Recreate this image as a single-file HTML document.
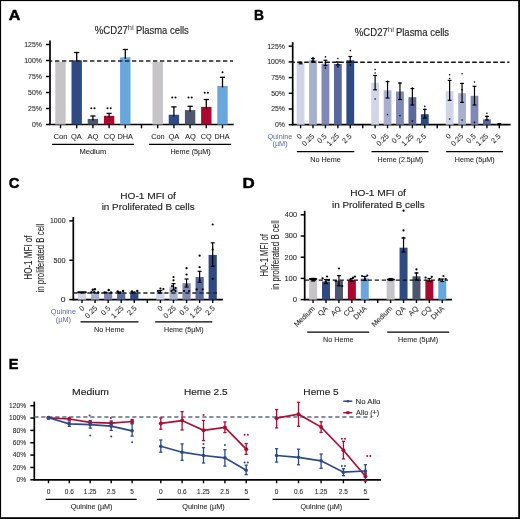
<!DOCTYPE html><html><head><meta charset="utf-8"><style>html,body{margin:0;padding:0;background:#fff;}svg{display:block;will-change:transform;}text{font-family:"Liberation Sans", sans-serif;}</style></head><body>
<svg width="520" height="519" viewBox="0 0 520 519">
<rect x="0" y="0" width="520" height="519" fill="#fff"/>
<text x="8.80" y="19.60" font-size="15.4" fill="#000" stroke="#000" stroke-width="0.5" font-weight="bold" textLength="11.64" lengthAdjust="spacingAndGlyphs" >A</text>
<text x="254.10" y="19.60" font-size="15.4" fill="#000" stroke="#000" stroke-width="0.5" font-weight="bold" textLength="9.94" lengthAdjust="spacingAndGlyphs" >B</text>
<text x="8.81" y="188.40" font-size="15.4" fill="#000" stroke="#000" stroke-width="0.5" font-weight="bold" textLength="10.69" lengthAdjust="spacingAndGlyphs" >C</text>
<text x="242.50" y="188.40" font-size="15.4" fill="#000" stroke="#000" stroke-width="0.5" font-weight="bold" textLength="12.21" lengthAdjust="spacingAndGlyphs" >D</text>
<text x="8.86" y="368.70" font-size="15.4" fill="#000" stroke="#000" stroke-width="0.5" font-weight="bold" textLength="9.68" lengthAdjust="spacingAndGlyphs" >E</text>
<line x1="50.00" y1="40.40" x2="50.00" y2="125.10" stroke="#000" stroke-width="1.7" />
<line x1="46.00" y1="124.50" x2="50.00" y2="124.50" stroke="#000" stroke-width="1.5" />
<text x="31.92" y="126.85" font-size="6.8" fill="#1f1f1f" stroke="#1f1f1f" stroke-width="0.07" font-weight="normal" textLength="10.03" lengthAdjust="spacingAndGlyphs" >0%</text>
<line x1="46.00" y1="108.50" x2="50.00" y2="108.50" stroke="#000" stroke-width="1.5" />
<text x="28.07" y="110.85" font-size="6.8" fill="#1f1f1f" stroke="#1f1f1f" stroke-width="0.07" font-weight="normal" textLength="13.89" lengthAdjust="spacingAndGlyphs" >25%</text>
<line x1="46.00" y1="92.50" x2="50.00" y2="92.50" stroke="#000" stroke-width="1.5" />
<text x="28.07" y="94.85" font-size="6.8" fill="#1f1f1f" stroke="#1f1f1f" stroke-width="0.07" font-weight="normal" textLength="13.89" lengthAdjust="spacingAndGlyphs" >50%</text>
<line x1="46.00" y1="76.50" x2="50.00" y2="76.50" stroke="#000" stroke-width="1.5" />
<text x="28.07" y="78.85" font-size="6.8" fill="#1f1f1f" stroke="#1f1f1f" stroke-width="0.07" font-weight="normal" textLength="13.89" lengthAdjust="spacingAndGlyphs" >75%</text>
<line x1="46.00" y1="60.50" x2="50.00" y2="60.50" stroke="#000" stroke-width="1.5" />
<text x="24.18" y="62.85" font-size="6.8" fill="#1f1f1f" stroke="#1f1f1f" stroke-width="0.07" font-weight="normal" textLength="17.75" lengthAdjust="spacingAndGlyphs" >100%</text>
<line x1="46.00" y1="44.50" x2="50.00" y2="44.50" stroke="#000" stroke-width="1.5" />
<text x="24.18" y="46.85" font-size="6.8" fill="#1f1f1f" stroke="#1f1f1f" stroke-width="0.07" font-weight="normal" textLength="17.75" lengthAdjust="spacingAndGlyphs" >125%</text>
<line x1="49.40" y1="124.50" x2="233.70" y2="124.50" stroke="#000" stroke-width="1.7" />
<line x1="60.50" y1="124.50" x2="60.50" y2="128.30" stroke="#000" stroke-width="1.4" />
<line x1="76.70" y1="124.50" x2="76.70" y2="128.30" stroke="#000" stroke-width="1.4" />
<line x1="92.90" y1="124.50" x2="92.90" y2="128.30" stroke="#000" stroke-width="1.4" />
<line x1="109.10" y1="124.50" x2="109.10" y2="128.30" stroke="#000" stroke-width="1.4" />
<line x1="125.30" y1="124.50" x2="125.30" y2="128.30" stroke="#000" stroke-width="1.4" />
<line x1="141.50" y1="124.50" x2="141.50" y2="128.30" stroke="#000" stroke-width="1.4" />
<line x1="157.70" y1="124.50" x2="157.70" y2="128.30" stroke="#000" stroke-width="1.4" />
<line x1="173.90" y1="124.50" x2="173.90" y2="128.30" stroke="#000" stroke-width="1.4" />
<line x1="190.10" y1="124.50" x2="190.10" y2="128.30" stroke="#000" stroke-width="1.4" />
<line x1="206.30" y1="124.50" x2="206.30" y2="128.30" stroke="#000" stroke-width="1.4" />
<line x1="222.50" y1="124.50" x2="222.50" y2="128.30" stroke="#000" stroke-width="1.4" />
<rect x="55.30" y="61.80" width="10.40" height="62.70" fill="#c6c4c9"/>
<rect x="71.50" y="60.30" width="10.40" height="64.20" fill="#2e4a80"/>
<line x1="76.70" y1="52.50" x2="76.70" y2="61.80" stroke="#000" stroke-width="1.3" />
<line x1="74.10" y1="52.50" x2="79.30" y2="52.50" stroke="#000" stroke-width="1.3" />
<rect x="87.70" y="118.90" width="10.40" height="5.60" fill="#4c566f"/>
<line x1="92.90" y1="116.00" x2="92.90" y2="120.40" stroke="#000" stroke-width="1.3" />
<line x1="90.30" y1="116.00" x2="95.50" y2="116.00" stroke="#000" stroke-width="1.3" />
<rect x="103.90" y="115.80" width="10.40" height="8.70" fill="#a9082f"/>
<line x1="109.10" y1="113.40" x2="109.10" y2="117.30" stroke="#000" stroke-width="1.3" />
<line x1="106.50" y1="113.40" x2="111.70" y2="113.40" stroke="#000" stroke-width="1.3" />
<rect x="120.10" y="57.30" width="10.40" height="67.20" fill="#68a7de"/>
<line x1="125.30" y1="49.50" x2="125.30" y2="58.80" stroke="#000" stroke-width="1.3" />
<line x1="122.70" y1="49.50" x2="127.90" y2="49.50" stroke="#000" stroke-width="1.3" />
<rect x="152.50" y="61.80" width="10.40" height="62.70" fill="#c6c4c9"/>
<rect x="168.70" y="114.75" width="10.40" height="9.75" fill="#2e4a80"/>
<line x1="173.90" y1="106.90" x2="173.90" y2="116.25" stroke="#000" stroke-width="1.3" />
<line x1="171.30" y1="106.90" x2="176.50" y2="106.90" stroke="#000" stroke-width="1.3" />
<rect x="184.90" y="110.10" width="10.40" height="14.40" fill="#4c566f"/>
<line x1="190.10" y1="106.30" x2="190.10" y2="111.60" stroke="#000" stroke-width="1.3" />
<line x1="187.50" y1="106.30" x2="192.70" y2="106.30" stroke="#000" stroke-width="1.3" />
<rect x="201.10" y="106.90" width="10.40" height="17.60" fill="#a9082f"/>
<line x1="206.30" y1="99.50" x2="206.30" y2="108.40" stroke="#000" stroke-width="1.3" />
<line x1="203.70" y1="99.50" x2="208.90" y2="99.50" stroke="#000" stroke-width="1.3" />
<rect x="217.30" y="86.00" width="10.40" height="38.50" fill="#68a7de"/>
<line x1="222.50" y1="77.30" x2="222.50" y2="87.50" stroke="#000" stroke-width="1.3" />
<line x1="219.90" y1="77.30" x2="225.10" y2="77.30" stroke="#000" stroke-width="1.3" />
<line x1="50.00" y1="60.90" x2="233.00" y2="60.90" stroke="#222" stroke-width="1.5" stroke-dasharray="4.3 2.7" stroke-dashoffset="2"/>
<circle cx="91.30" cy="108.20" r="1.0" fill="#000"/>
<circle cx="94.50" cy="108.20" r="1.0" fill="#000"/>
<circle cx="107.50" cy="108.20" r="1.0" fill="#000"/>
<circle cx="110.70" cy="108.20" r="1.0" fill="#000"/>
<circle cx="172.30" cy="97.60" r="1.0" fill="#000"/>
<circle cx="175.50" cy="97.60" r="1.0" fill="#000"/>
<circle cx="188.50" cy="97.60" r="1.0" fill="#000"/>
<circle cx="191.70" cy="97.60" r="1.0" fill="#000"/>
<circle cx="204.70" cy="92.70" r="1.0" fill="#000"/>
<circle cx="207.90" cy="92.70" r="1.0" fill="#000"/>
<circle cx="222.50" cy="72.20" r="1.0" fill="#000"/>
<text x="53.62" y="138.60" font-size="7.4" fill="#1f1f1f" stroke="#1f1f1f" stroke-width="0.07" font-weight="normal" textLength="13.97" lengthAdjust="spacingAndGlyphs" >Con</text>
<text x="70.97" y="138.60" font-size="7.4" fill="#1f1f1f" stroke="#1f1f1f" stroke-width="0.07" font-weight="normal" textLength="10.73" lengthAdjust="spacingAndGlyphs" >QA</text>
<text x="87.50" y="138.60" font-size="7.4" fill="#1f1f1f" stroke="#1f1f1f" stroke-width="0.07" font-weight="normal" textLength="10.98" lengthAdjust="spacingAndGlyphs" >AQ</text>
<text x="103.72" y="138.60" font-size="7.4" fill="#1f1f1f" stroke="#1f1f1f" stroke-width="0.07" font-weight="normal" textLength="11.36" lengthAdjust="spacingAndGlyphs" >CQ</text>
<text x="117.51" y="138.60" font-size="7.4" fill="#1f1f1f" stroke="#1f1f1f" stroke-width="0.07" font-weight="normal" textLength="15.50" lengthAdjust="spacingAndGlyphs" >DHA</text>
<text x="151.13" y="138.60" font-size="7.4" fill="#1f1f1f" stroke="#1f1f1f" stroke-width="0.07" font-weight="normal" textLength="13.55" lengthAdjust="spacingAndGlyphs" >Con</text>
<text x="168.46" y="138.60" font-size="7.4" fill="#1f1f1f" stroke="#1f1f1f" stroke-width="0.07" font-weight="normal" textLength="10.94" lengthAdjust="spacingAndGlyphs" >QA</text>
<text x="184.90" y="138.60" font-size="7.4" fill="#1f1f1f" stroke="#1f1f1f" stroke-width="0.07" font-weight="normal" textLength="10.88" lengthAdjust="spacingAndGlyphs" >AQ</text>
<text x="200.74" y="138.60" font-size="7.4" fill="#1f1f1f" stroke="#1f1f1f" stroke-width="0.07" font-weight="normal" textLength="10.93" lengthAdjust="spacingAndGlyphs" >CQ</text>
<text x="214.42" y="138.60" font-size="7.4" fill="#1f1f1f" stroke="#1f1f1f" stroke-width="0.07" font-weight="normal" textLength="15.19" lengthAdjust="spacingAndGlyphs" >DHA</text>
<line x1="52.10" y1="144.30" x2="134.00" y2="144.30" stroke="#000" stroke-width="1.25" />
<line x1="149.00" y1="144.30" x2="231.20" y2="144.30" stroke="#000" stroke-width="1.25" />
<text x="79.40" y="153.80" font-size="6.9" fill="#1f1f1f" stroke="#1f1f1f" stroke-width="0.07" font-weight="normal" textLength="26.87" lengthAdjust="spacingAndGlyphs" >Medium</text>
<text x="170.42" y="154.20" font-size="6.9" fill="#1f1f1f" stroke="#1f1f1f" stroke-width="0.07" font-weight="normal" textLength="40.22" lengthAdjust="spacingAndGlyphs" >Heme (5µM)</text>
<text x="94.87" y="34.10" font-size="10.2" fill="#1f1f1f" stroke="#1f1f1f" stroke-width="0.15" font-weight="normal" textLength="32.92" lengthAdjust="spacingAndGlyphs" >%CD27</text>
<text x="127.53" y="29.60" font-size="6.9" fill="#444" stroke="#444" stroke-width="0" font-weight="normal" textLength="6.32" lengthAdjust="spacingAndGlyphs" >hi</text>
<text x="135.95" y="34.10" font-size="10.2" fill="#1f1f1f" stroke="#1f1f1f" stroke-width="0.15" font-weight="normal" textLength="52.86" lengthAdjust="spacingAndGlyphs" >Plasma cells</text>
<line x1="292.70" y1="42.20" x2="292.70" y2="125.30" stroke="#000" stroke-width="1.7" />
<line x1="288.70" y1="124.70" x2="292.70" y2="124.70" stroke="#000" stroke-width="1.5" />
<text x="275.02" y="127.05" font-size="6.8" fill="#1f1f1f" stroke="#1f1f1f" stroke-width="0.07" font-weight="normal" textLength="10.03" lengthAdjust="spacingAndGlyphs" >0%</text>
<line x1="288.70" y1="109.00" x2="292.70" y2="109.00" stroke="#000" stroke-width="1.5" />
<text x="271.17" y="111.35" font-size="6.8" fill="#1f1f1f" stroke="#1f1f1f" stroke-width="0.07" font-weight="normal" textLength="13.89" lengthAdjust="spacingAndGlyphs" >25%</text>
<line x1="288.70" y1="93.30" x2="292.70" y2="93.30" stroke="#000" stroke-width="1.5" />
<text x="271.17" y="95.65" font-size="6.8" fill="#1f1f1f" stroke="#1f1f1f" stroke-width="0.07" font-weight="normal" textLength="13.89" lengthAdjust="spacingAndGlyphs" >50%</text>
<line x1="288.70" y1="77.60" x2="292.70" y2="77.60" stroke="#000" stroke-width="1.5" />
<text x="271.17" y="79.95" font-size="6.8" fill="#1f1f1f" stroke="#1f1f1f" stroke-width="0.07" font-weight="normal" textLength="13.89" lengthAdjust="spacingAndGlyphs" >75%</text>
<line x1="288.70" y1="61.90" x2="292.70" y2="61.90" stroke="#000" stroke-width="1.5" />
<text x="267.28" y="64.25" font-size="6.8" fill="#1f1f1f" stroke="#1f1f1f" stroke-width="0.07" font-weight="normal" textLength="17.75" lengthAdjust="spacingAndGlyphs" >100%</text>
<line x1="288.70" y1="46.20" x2="292.70" y2="46.20" stroke="#000" stroke-width="1.5" />
<text x="267.28" y="48.55" font-size="6.8" fill="#1f1f1f" stroke="#1f1f1f" stroke-width="0.07" font-weight="normal" textLength="17.75" lengthAdjust="spacingAndGlyphs" >125%</text>
<line x1="292.10" y1="124.70" x2="510.60" y2="124.70" stroke="#000" stroke-width="1.7" />
<line x1="300.60" y1="124.70" x2="300.60" y2="128.30" stroke="#000" stroke-width="1.4" />
<line x1="313.02" y1="124.70" x2="313.02" y2="128.30" stroke="#000" stroke-width="1.4" />
<line x1="325.44" y1="124.70" x2="325.44" y2="128.30" stroke="#000" stroke-width="1.4" />
<line x1="337.86" y1="124.70" x2="337.86" y2="128.30" stroke="#000" stroke-width="1.4" />
<line x1="350.28" y1="124.70" x2="350.28" y2="128.30" stroke="#000" stroke-width="1.4" />
<line x1="362.70" y1="124.70" x2="362.70" y2="128.30" stroke="#000" stroke-width="1.4" />
<line x1="375.12" y1="124.70" x2="375.12" y2="128.30" stroke="#000" stroke-width="1.4" />
<line x1="387.54" y1="124.70" x2="387.54" y2="128.30" stroke="#000" stroke-width="1.4" />
<line x1="399.96" y1="124.70" x2="399.96" y2="128.30" stroke="#000" stroke-width="1.4" />
<line x1="412.38" y1="124.70" x2="412.38" y2="128.30" stroke="#000" stroke-width="1.4" />
<line x1="424.80" y1="124.70" x2="424.80" y2="128.30" stroke="#000" stroke-width="1.4" />
<line x1="437.22" y1="124.70" x2="437.22" y2="128.30" stroke="#000" stroke-width="1.4" />
<line x1="449.64" y1="124.70" x2="449.64" y2="128.30" stroke="#000" stroke-width="1.4" />
<line x1="462.06" y1="124.70" x2="462.06" y2="128.30" stroke="#000" stroke-width="1.4" />
<line x1="474.48" y1="124.70" x2="474.48" y2="128.30" stroke="#000" stroke-width="1.4" />
<line x1="486.90" y1="124.70" x2="486.90" y2="128.30" stroke="#000" stroke-width="1.4" />
<line x1="499.32" y1="124.70" x2="499.32" y2="128.30" stroke="#000" stroke-width="1.4" />
<rect x="296.70" y="63.10" width="7.80" height="61.60" fill="#d2d4e8"/>
<rect x="309.12" y="60.00" width="7.80" height="64.70" fill="#a9afcf"/>
<rect x="321.54" y="63.75" width="7.80" height="60.95" fill="#7f89b4"/>
<rect x="333.96" y="64.00" width="7.80" height="60.70" fill="#59699d"/>
<rect x="346.38" y="60.25" width="7.80" height="64.45" fill="#2d4a84"/>
<rect x="371.22" y="82.80" width="7.80" height="41.90" fill="#d2d4e8"/>
<rect x="383.64" y="90.30" width="7.80" height="34.40" fill="#a9afcf"/>
<rect x="396.06" y="91.50" width="7.80" height="33.20" fill="#7f89b4"/>
<rect x="408.48" y="97.20" width="7.80" height="27.50" fill="#59699d"/>
<rect x="420.90" y="114.20" width="7.80" height="10.50" fill="#2d4a84"/>
<rect x="445.74" y="91.20" width="7.80" height="33.50" fill="#d2d4e8"/>
<rect x="458.16" y="93.20" width="7.80" height="31.50" fill="#a9afcf"/>
<rect x="470.58" y="95.80" width="7.80" height="28.90" fill="#7f89b4"/>
<rect x="483.00" y="119.40" width="7.80" height="5.30" fill="#59699d"/>
<rect x="495.42" y="124.20" width="7.80" height="0.50" fill="#2d4a84"/>
<line x1="292.70" y1="62.15" x2="509.40" y2="62.15" stroke="#111" stroke-width="1.5" stroke-dasharray="4.6 2.4" stroke-dashoffset="2.5"/>
<line x1="300.60" y1="62.30" x2="300.60" y2="63.80" stroke="#000" stroke-width="1.2" />
<line x1="298.70" y1="62.30" x2="302.50" y2="62.30" stroke="#000" stroke-width="1.2" />
<line x1="298.70" y1="63.80" x2="302.50" y2="63.80" stroke="#000" stroke-width="1.2" />
<line x1="313.02" y1="58.60" x2="313.02" y2="61.40" stroke="#000" stroke-width="1.2" />
<line x1="311.12" y1="58.60" x2="314.92" y2="58.60" stroke="#000" stroke-width="1.2" />
<line x1="311.12" y1="61.40" x2="314.92" y2="61.40" stroke="#000" stroke-width="1.2" />
<line x1="325.44" y1="60.25" x2="325.44" y2="65.60" stroke="#000" stroke-width="1.2" />
<line x1="323.54" y1="60.25" x2="327.34" y2="60.25" stroke="#000" stroke-width="1.2" />
<line x1="323.54" y1="65.60" x2="327.34" y2="65.60" stroke="#000" stroke-width="1.2" />
<line x1="337.86" y1="61.90" x2="337.86" y2="65.00" stroke="#000" stroke-width="1.2" />
<line x1="335.96" y1="61.90" x2="339.76" y2="61.90" stroke="#000" stroke-width="1.2" />
<line x1="335.96" y1="65.00" x2="339.76" y2="65.00" stroke="#000" stroke-width="1.2" />
<line x1="350.28" y1="56.50" x2="350.28" y2="61.90" stroke="#000" stroke-width="1.2" />
<line x1="348.38" y1="56.50" x2="352.18" y2="56.50" stroke="#000" stroke-width="1.2" />
<line x1="348.38" y1="61.90" x2="352.18" y2="61.90" stroke="#000" stroke-width="1.2" />
<line x1="375.12" y1="75.50" x2="375.12" y2="89.80" stroke="#000" stroke-width="1.2" />
<line x1="373.22" y1="75.50" x2="377.02" y2="75.50" stroke="#000" stroke-width="1.2" />
<line x1="373.22" y1="89.80" x2="377.02" y2="89.80" stroke="#000" stroke-width="1.2" />
<line x1="387.54" y1="81.60" x2="387.54" y2="98.00" stroke="#000" stroke-width="1.2" />
<line x1="385.64" y1="81.60" x2="389.44" y2="81.60" stroke="#000" stroke-width="1.2" />
<line x1="385.64" y1="98.00" x2="389.44" y2="98.00" stroke="#000" stroke-width="1.2" />
<line x1="399.96" y1="83.00" x2="399.96" y2="99.50" stroke="#000" stroke-width="1.2" />
<line x1="398.06" y1="83.00" x2="401.86" y2="83.00" stroke="#000" stroke-width="1.2" />
<line x1="398.06" y1="99.50" x2="401.86" y2="99.50" stroke="#000" stroke-width="1.2" />
<line x1="412.38" y1="88.60" x2="412.38" y2="105.00" stroke="#000" stroke-width="1.2" />
<line x1="410.48" y1="88.60" x2="414.28" y2="88.60" stroke="#000" stroke-width="1.2" />
<line x1="410.48" y1="105.00" x2="414.28" y2="105.00" stroke="#000" stroke-width="1.2" />
<line x1="424.80" y1="109.40" x2="424.80" y2="118.00" stroke="#000" stroke-width="1.2" />
<line x1="422.90" y1="109.40" x2="426.70" y2="109.40" stroke="#000" stroke-width="1.2" />
<line x1="422.90" y1="118.00" x2="426.70" y2="118.00" stroke="#000" stroke-width="1.2" />
<line x1="449.64" y1="80.40" x2="449.64" y2="100.30" stroke="#000" stroke-width="1.2" />
<line x1="447.74" y1="80.40" x2="451.54" y2="80.40" stroke="#000" stroke-width="1.2" />
<line x1="447.74" y1="100.30" x2="451.54" y2="100.30" stroke="#000" stroke-width="1.2" />
<line x1="462.06" y1="83.40" x2="462.06" y2="102.40" stroke="#000" stroke-width="1.2" />
<line x1="460.16" y1="83.40" x2="463.96" y2="83.40" stroke="#000" stroke-width="1.2" />
<line x1="460.16" y1="102.40" x2="463.96" y2="102.40" stroke="#000" stroke-width="1.2" />
<line x1="474.48" y1="86.30" x2="474.48" y2="105.00" stroke="#000" stroke-width="1.2" />
<line x1="472.58" y1="86.30" x2="476.38" y2="86.30" stroke="#000" stroke-width="1.2" />
<line x1="472.58" y1="105.00" x2="476.38" y2="105.00" stroke="#000" stroke-width="1.2" />
<line x1="486.90" y1="116.30" x2="486.90" y2="120.00" stroke="#000" stroke-width="1.2" />
<line x1="485.00" y1="116.30" x2="488.80" y2="116.30" stroke="#000" stroke-width="1.2" />
<line x1="485.00" y1="120.00" x2="488.80" y2="120.00" stroke="#000" stroke-width="1.2" />
<line x1="499.32" y1="123.60" x2="499.32" y2="124.70" stroke="#000" stroke-width="1.2" />
<line x1="497.42" y1="123.60" x2="501.22" y2="123.60" stroke="#000" stroke-width="1.2" />
<line x1="497.42" y1="124.70" x2="501.22" y2="124.70" stroke="#000" stroke-width="1.2" />
<circle cx="313.02" cy="57.50" r="0.8" fill="#000"/>
<circle cx="313.02" cy="60.60" r="0.8" fill="#000"/>
<circle cx="325.44" cy="56.90" r="0.8" fill="#000"/>
<circle cx="325.44" cy="62.50" r="0.8" fill="#000"/>
<circle cx="325.44" cy="68.10" r="0.8" fill="#000"/>
<circle cx="337.86" cy="58.50" r="0.8" fill="#000"/>
<circle cx="337.86" cy="66.90" r="0.8" fill="#000"/>
<circle cx="350.28" cy="50.60" r="0.8" fill="#000"/>
<circle cx="350.28" cy="65.00" r="0.8" fill="#000"/>
<circle cx="375.12" cy="69.50" r="0.8" fill="#000"/>
<circle cx="375.12" cy="73.00" r="0.8" fill="#000"/>
<circle cx="375.12" cy="99.00" r="0.8" fill="#000"/>
<circle cx="387.54" cy="81.30" r="0.8" fill="#000"/>
<circle cx="387.54" cy="114.60" r="0.8" fill="#000"/>
<circle cx="399.96" cy="83.00" r="0.8" fill="#000"/>
<circle cx="399.96" cy="115.80" r="0.8" fill="#000"/>
<circle cx="412.38" cy="88.00" r="0.8" fill="#000"/>
<circle cx="412.38" cy="121.00" r="0.8" fill="#000"/>
<circle cx="424.80" cy="106.40" r="0.8" fill="#000"/>
<circle cx="424.80" cy="109.40" r="0.8" fill="#000"/>
<circle cx="449.64" cy="74.70" r="0.8" fill="#000"/>
<circle cx="449.64" cy="78.50" r="0.8" fill="#000"/>
<circle cx="449.64" cy="119.00" r="0.8" fill="#000"/>
<circle cx="462.06" cy="73.80" r="0.8" fill="#000"/>
<circle cx="462.06" cy="89.80" r="0.8" fill="#000"/>
<circle cx="462.06" cy="120.00" r="0.8" fill="#000"/>
<circle cx="474.48" cy="82.00" r="0.8" fill="#000"/>
<circle cx="474.48" cy="122.40" r="0.8" fill="#000"/>
<circle cx="486.90" cy="113.30" r="0.8" fill="#000"/>
<circle cx="486.90" cy="116.30" r="0.8" fill="#000"/>
<text x="302.40" y="136.50" font-size="7.3" text-anchor="end" fill="#1f1f1f" stroke="#1f1f1f" stroke-width="0.07" transform="rotate(-45 302.40 136.50)">0</text>
<text x="314.82" y="136.50" font-size="7.3" text-anchor="end" fill="#1f1f1f" stroke="#1f1f1f" stroke-width="0.07" transform="rotate(-45 314.82 136.50)">0.25</text>
<text x="327.24" y="136.50" font-size="7.3" text-anchor="end" fill="#1f1f1f" stroke="#1f1f1f" stroke-width="0.07" transform="rotate(-45 327.24 136.50)">0.5</text>
<text x="339.66" y="136.50" font-size="7.3" text-anchor="end" fill="#1f1f1f" stroke="#1f1f1f" stroke-width="0.07" transform="rotate(-45 339.66 136.50)">1.25</text>
<text x="352.08" y="136.50" font-size="7.3" text-anchor="end" fill="#1f1f1f" stroke="#1f1f1f" stroke-width="0.07" transform="rotate(-45 352.08 136.50)">2.5</text>
<text x="376.92" y="136.50" font-size="7.3" text-anchor="end" fill="#1f1f1f" stroke="#1f1f1f" stroke-width="0.07" transform="rotate(-45 376.92 136.50)">0</text>
<text x="389.34" y="136.50" font-size="7.3" text-anchor="end" fill="#1f1f1f" stroke="#1f1f1f" stroke-width="0.07" transform="rotate(-45 389.34 136.50)">0.25</text>
<text x="401.76" y="136.50" font-size="7.3" text-anchor="end" fill="#1f1f1f" stroke="#1f1f1f" stroke-width="0.07" transform="rotate(-45 401.76 136.50)">0.5</text>
<text x="414.18" y="136.50" font-size="7.3" text-anchor="end" fill="#1f1f1f" stroke="#1f1f1f" stroke-width="0.07" transform="rotate(-45 414.18 136.50)">1.25</text>
<text x="426.60" y="136.50" font-size="7.3" text-anchor="end" fill="#1f1f1f" stroke="#1f1f1f" stroke-width="0.07" transform="rotate(-45 426.60 136.50)">2.5</text>
<text x="451.44" y="136.50" font-size="7.3" text-anchor="end" fill="#1f1f1f" stroke="#1f1f1f" stroke-width="0.07" transform="rotate(-45 451.44 136.50)">0</text>
<text x="463.86" y="136.50" font-size="7.3" text-anchor="end" fill="#1f1f1f" stroke="#1f1f1f" stroke-width="0.07" transform="rotate(-45 463.86 136.50)">0.25</text>
<text x="476.28" y="136.50" font-size="7.3" text-anchor="end" fill="#1f1f1f" stroke="#1f1f1f" stroke-width="0.07" transform="rotate(-45 476.28 136.50)">0.5</text>
<text x="488.70" y="136.50" font-size="7.3" text-anchor="end" fill="#1f1f1f" stroke="#1f1f1f" stroke-width="0.07" transform="rotate(-45 488.70 136.50)">1.25</text>
<text x="501.12" y="136.50" font-size="7.3" text-anchor="end" fill="#1f1f1f" stroke="#1f1f1f" stroke-width="0.07" transform="rotate(-45 501.12 136.50)">2.5</text>
<text x="267.48" y="138.50" font-size="7.2" fill="#566d9f" stroke="#566d9f" stroke-width="0" font-weight="normal" textLength="24.86" lengthAdjust="spacingAndGlyphs" >Quinine</text>
<text x="272.46" y="145.60" font-size="7.2" fill="#566d9f" stroke="#566d9f" stroke-width="0" font-weight="normal" textLength="15.11" lengthAdjust="spacingAndGlyphs" >(µM)</text>
<line x1="296.90" y1="151.50" x2="354.30" y2="151.50" stroke="#000" stroke-width="1.25" />
<line x1="371.50" y1="151.50" x2="428.50" y2="151.50" stroke="#000" stroke-width="1.25" />
<line x1="446.20" y1="151.50" x2="503.00" y2="151.50" stroke="#000" stroke-width="1.25" />
<text x="310.22" y="161.80" font-size="6.9" fill="#1f1f1f" stroke="#1f1f1f" stroke-width="0.07" font-weight="normal" textLength="30.60" lengthAdjust="spacingAndGlyphs" >No Heme</text>
<text x="377.63" y="161.80" font-size="6.9" fill="#1f1f1f" stroke="#1f1f1f" stroke-width="0.07" font-weight="normal" textLength="45.60" lengthAdjust="spacingAndGlyphs" >Heme (2.5µM)</text>
<text x="454.83" y="161.80" font-size="6.9" fill="#1f1f1f" stroke="#1f1f1f" stroke-width="0.07" font-weight="normal" textLength="39.81" lengthAdjust="spacingAndGlyphs" >Heme (5µM)</text>
<text x="354.87" y="35.80" font-size="10.2" fill="#1f1f1f" stroke="#1f1f1f" stroke-width="0.15" font-weight="normal" textLength="32.92" lengthAdjust="spacingAndGlyphs" >%CD27</text>
<text x="387.83" y="31.80" font-size="6.9" fill="#444" stroke="#444" stroke-width="0" font-weight="normal" textLength="6.32" lengthAdjust="spacingAndGlyphs" >hi</text>
<text x="395.94" y="35.80" font-size="10.2" fill="#1f1f1f" stroke="#1f1f1f" stroke-width="0.15" font-weight="normal" textLength="53.17" lengthAdjust="spacingAndGlyphs" >Plasma cells</text>
<line x1="73.30" y1="217.00" x2="73.30" y2="300.20" stroke="#000" stroke-width="1.7" />
<line x1="69.30" y1="299.60" x2="73.30" y2="299.60" stroke="#000" stroke-width="1.5" />
<text x="60.86" y="301.95" font-size="6.8" fill="#1f1f1f" stroke="#1f1f1f" stroke-width="0.07" font-weight="normal" textLength="4.75" lengthAdjust="spacingAndGlyphs" >0</text>
<line x1="69.30" y1="260.25" x2="73.30" y2="260.25" stroke="#000" stroke-width="1.5" />
<text x="53.51" y="262.60" font-size="6.8" fill="#1f1f1f" stroke="#1f1f1f" stroke-width="0.07" font-weight="normal" textLength="12.07" lengthAdjust="spacingAndGlyphs" >500</text>
<line x1="69.30" y1="220.90" x2="73.30" y2="220.90" stroke="#000" stroke-width="1.5" />
<text x="49.98" y="223.25" font-size="6.8" fill="#1f1f1f" stroke="#1f1f1f" stroke-width="0.07" font-weight="normal" textLength="15.57" lengthAdjust="spacingAndGlyphs" >1000</text>
<line x1="72.70" y1="299.60" x2="222.90" y2="299.60" stroke="#000" stroke-width="1.7" />
<line x1="82.00" y1="299.60" x2="82.00" y2="303.00" stroke="#000" stroke-width="1.4" />
<line x1="95.07" y1="299.60" x2="95.07" y2="303.00" stroke="#000" stroke-width="1.4" />
<line x1="108.14" y1="299.60" x2="108.14" y2="303.00" stroke="#000" stroke-width="1.4" />
<line x1="121.21" y1="299.60" x2="121.21" y2="303.00" stroke="#000" stroke-width="1.4" />
<line x1="134.28" y1="299.60" x2="134.28" y2="303.00" stroke="#000" stroke-width="1.4" />
<line x1="147.35" y1="299.60" x2="147.35" y2="303.00" stroke="#000" stroke-width="1.4" />
<line x1="160.42" y1="299.60" x2="160.42" y2="303.00" stroke="#000" stroke-width="1.4" />
<line x1="173.49" y1="299.60" x2="173.49" y2="303.00" stroke="#000" stroke-width="1.4" />
<line x1="186.56" y1="299.60" x2="186.56" y2="303.00" stroke="#000" stroke-width="1.4" />
<line x1="199.63" y1="299.60" x2="199.63" y2="303.00" stroke="#000" stroke-width="1.4" />
<line x1="212.70" y1="299.60" x2="212.70" y2="303.00" stroke="#000" stroke-width="1.4" />
<rect x="77.90" y="293.00" width="8.20" height="6.60" fill="#d2d4e8"/>
<rect x="90.97" y="293.00" width="8.20" height="6.60" fill="#a9afcf"/>
<rect x="104.04" y="293.00" width="8.20" height="6.60" fill="#7f89b4"/>
<rect x="117.11" y="293.00" width="8.20" height="6.60" fill="#59699d"/>
<rect x="130.18" y="293.00" width="8.20" height="6.60" fill="#2d4a84"/>
<rect x="156.32" y="291.90" width="8.20" height="7.70" fill="#d2d4e8"/>
<rect x="169.39" y="286.70" width="8.20" height="12.90" fill="#a9afcf"/>
<rect x="182.46" y="283.20" width="8.20" height="16.40" fill="#7f89b4"/>
<rect x="195.53" y="277.00" width="8.20" height="22.60" fill="#59699d"/>
<rect x="208.60" y="254.90" width="8.20" height="44.70" fill="#2d4a84"/>
<line x1="73.30" y1="293.00" x2="217.00" y2="293.00" stroke="#222" stroke-width="1.4" stroke-dasharray="4.2 2.8"/>
<line x1="160.42" y1="290.50" x2="160.42" y2="293.00" stroke="#000" stroke-width="1.2" />
<line x1="158.42" y1="290.50" x2="162.42" y2="290.50" stroke="#000" stroke-width="1.2" />
<line x1="158.42" y1="293.00" x2="162.42" y2="293.00" stroke="#000" stroke-width="1.2" />
<line x1="173.49" y1="283.60" x2="173.49" y2="290.00" stroke="#000" stroke-width="1.2" />
<line x1="171.49" y1="283.60" x2="175.49" y2="283.60" stroke="#000" stroke-width="1.2" />
<line x1="171.49" y1="290.00" x2="175.49" y2="290.00" stroke="#000" stroke-width="1.2" />
<line x1="186.56" y1="279.00" x2="186.56" y2="287.00" stroke="#000" stroke-width="1.2" />
<line x1="184.56" y1="279.00" x2="188.56" y2="279.00" stroke="#000" stroke-width="1.2" />
<line x1="184.56" y1="287.00" x2="188.56" y2="287.00" stroke="#000" stroke-width="1.2" />
<line x1="199.63" y1="271.30" x2="199.63" y2="282.30" stroke="#000" stroke-width="1.2" />
<line x1="197.63" y1="271.30" x2="201.63" y2="271.30" stroke="#000" stroke-width="1.2" />
<line x1="197.63" y1="282.30" x2="201.63" y2="282.30" stroke="#000" stroke-width="1.2" />
<line x1="212.70" y1="242.80" x2="212.70" y2="266.30" stroke="#000" stroke-width="1.2" />
<line x1="210.70" y1="242.80" x2="214.70" y2="242.80" stroke="#000" stroke-width="1.2" />
<line x1="210.70" y1="266.30" x2="214.70" y2="266.30" stroke="#000" stroke-width="1.2" />
<line x1="78.20" y1="292.20" x2="85.80" y2="292.20" stroke="#000" stroke-width="2.0" stroke-linecap="round"/>
<circle cx="92.80" cy="289.70" r="1.2" fill="#000"/>
<circle cx="94.90" cy="289.30" r="1.2" fill="#000"/>
<circle cx="98.20" cy="292.50" r="1.2" fill="#000"/>
<circle cx="94.20" cy="292.20" r="1.2" fill="#000"/>
<circle cx="91.50" cy="292.30" r="1.2" fill="#000"/>
<circle cx="104.70" cy="292.50" r="1.2" fill="#000"/>
<circle cx="108.70" cy="290.00" r="1.2" fill="#000"/>
<circle cx="111.00" cy="292.50" r="1.2" fill="#000"/>
<circle cx="106.50" cy="292.60" r="1.2" fill="#000"/>
<circle cx="117.70" cy="291.50" r="1.2" fill="#000"/>
<circle cx="120.40" cy="292.50" r="1.2" fill="#000"/>
<circle cx="123.10" cy="291.00" r="1.2" fill="#000"/>
<circle cx="119.00" cy="292.60" r="1.2" fill="#000"/>
<circle cx="131.90" cy="291.50" r="1.2" fill="#000"/>
<circle cx="134.60" cy="292.50" r="1.2" fill="#000"/>
<circle cx="137.30" cy="291.00" r="1.2" fill="#000"/>
<circle cx="133.00" cy="292.60" r="1.2" fill="#000"/>
<circle cx="157.92" cy="291.00" r="1.1" fill="#000"/>
<circle cx="160.42" cy="288.50" r="1.1" fill="#000"/>
<circle cx="163.42" cy="289.00" r="1.1" fill="#000"/>
<circle cx="159.42" cy="292.50" r="1.1" fill="#000"/>
<circle cx="173.49" cy="277.00" r="1.1" fill="#000"/>
<circle cx="173.49" cy="280.30" r="1.1" fill="#000"/>
<circle cx="171.99" cy="286.00" r="1.1" fill="#000"/>
<circle cx="175.49" cy="288.00" r="1.1" fill="#000"/>
<circle cx="171.49" cy="291.00" r="1.1" fill="#000"/>
<circle cx="175.49" cy="291.00" r="1.1" fill="#000"/>
<circle cx="186.56" cy="268.20" r="1.1" fill="#000"/>
<circle cx="186.56" cy="274.50" r="1.1" fill="#000"/>
<circle cx="186.56" cy="285.00" r="1.1" fill="#000"/>
<circle cx="184.06" cy="291.00" r="1.1" fill="#000"/>
<circle cx="189.06" cy="291.00" r="1.1" fill="#000"/>
<circle cx="199.63" cy="255.70" r="1.1" fill="#000"/>
<circle cx="199.63" cy="267.20" r="1.1" fill="#000"/>
<circle cx="199.63" cy="280.30" r="1.1" fill="#000"/>
<circle cx="196.63" cy="289.40" r="1.1" fill="#000"/>
<circle cx="202.63" cy="289.40" r="1.1" fill="#000"/>
<circle cx="212.70" cy="224.50" r="1.1" fill="#000"/>
<circle cx="212.70" cy="249.50" r="1.1" fill="#000"/>
<circle cx="212.70" cy="265.90" r="1.1" fill="#000"/>
<circle cx="212.70" cy="278.80" r="1.1" fill="#000"/>
<text x="84.80" y="308.60" font-size="7.3" text-anchor="end" fill="#1f1f1f" stroke="#1f1f1f" stroke-width="0.07" transform="rotate(-45 84.80 308.60)">0</text>
<text x="97.87" y="308.60" font-size="7.3" text-anchor="end" fill="#1f1f1f" stroke="#1f1f1f" stroke-width="0.07" transform="rotate(-45 97.87 308.60)">0.25</text>
<text x="110.94" y="308.60" font-size="7.3" text-anchor="end" fill="#1f1f1f" stroke="#1f1f1f" stroke-width="0.07" transform="rotate(-45 110.94 308.60)">0.5</text>
<text x="124.01" y="308.60" font-size="7.3" text-anchor="end" fill="#1f1f1f" stroke="#1f1f1f" stroke-width="0.07" transform="rotate(-45 124.01 308.60)">1.25</text>
<text x="137.08" y="308.60" font-size="7.3" text-anchor="end" fill="#1f1f1f" stroke="#1f1f1f" stroke-width="0.07" transform="rotate(-45 137.08 308.60)">2.5</text>
<text x="163.22" y="308.60" font-size="7.3" text-anchor="end" fill="#1f1f1f" stroke="#1f1f1f" stroke-width="0.07" transform="rotate(-45 163.22 308.60)">0</text>
<text x="176.29" y="308.60" font-size="7.3" text-anchor="end" fill="#1f1f1f" stroke="#1f1f1f" stroke-width="0.07" transform="rotate(-45 176.29 308.60)">0.25</text>
<text x="189.36" y="308.60" font-size="7.3" text-anchor="end" fill="#1f1f1f" stroke="#1f1f1f" stroke-width="0.07" transform="rotate(-45 189.36 308.60)">0.5</text>
<text x="202.43" y="308.60" font-size="7.3" text-anchor="end" fill="#1f1f1f" stroke="#1f1f1f" stroke-width="0.07" transform="rotate(-45 202.43 308.60)">1.25</text>
<text x="215.50" y="308.60" font-size="7.3" text-anchor="end" fill="#1f1f1f" stroke="#1f1f1f" stroke-width="0.07" transform="rotate(-45 215.50 308.60)">2.5</text>
<text x="50.87" y="314.00" font-size="7.2" fill="#566d9f" stroke="#566d9f" stroke-width="0" font-weight="normal" textLength="25.07" lengthAdjust="spacingAndGlyphs" >Quinine</text>
<text x="55.86" y="321.80" font-size="7.2" fill="#566d9f" stroke="#566d9f" stroke-width="0" font-weight="normal" textLength="15.11" lengthAdjust="spacingAndGlyphs" >(µM)</text>
<line x1="80.50" y1="321.80" x2="138.50" y2="321.80" stroke="#000" stroke-width="1.25" />
<line x1="155.20" y1="321.80" x2="212.30" y2="321.80" stroke="#000" stroke-width="1.25" />
<text x="94.02" y="331.70" font-size="6.9" fill="#1f1f1f" stroke="#1f1f1f" stroke-width="0.07" font-weight="normal" textLength="30.49" lengthAdjust="spacingAndGlyphs" >No Heme</text>
<text x="164.03" y="331.90" font-size="6.9" fill="#1f1f1f" stroke="#1f1f1f" stroke-width="0.07" font-weight="normal" textLength="39.51" lengthAdjust="spacingAndGlyphs" >Heme (5µM)</text>
<text x="120.29" y="198.50" font-size="9.7" fill="#1f1f1f" stroke="#1f1f1f" stroke-width="0.15" font-weight="normal" textLength="55.66" lengthAdjust="spacingAndGlyphs" >HO-1 MFI of</text>
<text x="101.66" y="210.20" font-size="9.7" fill="#1f1f1f" stroke="#1f1f1f" stroke-width="0.15" font-weight="normal" textLength="93.07" lengthAdjust="spacingAndGlyphs" >in Proliferated B cells</text>
<g transform="translate(32.20 279.00) rotate(-90)">
<text x="-0.64" y="0.00" font-size="10" fill="#1f1f1f" stroke="#1f1f1f" stroke-width="0.07" font-weight="normal" textLength="44.11" lengthAdjust="spacingAndGlyphs" >HO-1 MFI of</text>
</g>
<g transform="translate(43.70 292.00) rotate(-90)">
<text x="-0.51" y="0.00" font-size="10" fill="#1f1f1f" stroke="#1f1f1f" stroke-width="0.07" font-weight="normal" textLength="69.04" lengthAdjust="spacingAndGlyphs" >in proliferated B cell</text>
</g>
<line x1="304.70" y1="210.80" x2="304.70" y2="300.20" stroke="#000" stroke-width="1.7" />
<line x1="300.70" y1="299.60" x2="304.70" y2="299.60" stroke="#000" stroke-width="1.5" />
<text x="292.69" y="301.95" font-size="6.8" fill="#1f1f1f" stroke="#1f1f1f" stroke-width="0.07" font-weight="normal" textLength="4.29" lengthAdjust="spacingAndGlyphs" >0</text>
<line x1="300.70" y1="278.40" x2="304.70" y2="278.40" stroke="#000" stroke-width="1.5" />
<text x="284.44" y="280.75" font-size="6.8" fill="#1f1f1f" stroke="#1f1f1f" stroke-width="0.07" font-weight="normal" textLength="12.55" lengthAdjust="spacingAndGlyphs" >100</text>
<line x1="300.70" y1="257.20" x2="304.70" y2="257.20" stroke="#000" stroke-width="1.5" />
<text x="284.63" y="259.55" font-size="6.8" fill="#1f1f1f" stroke="#1f1f1f" stroke-width="0.07" font-weight="normal" textLength="12.36" lengthAdjust="spacingAndGlyphs" >200</text>
<line x1="300.70" y1="236.00" x2="304.70" y2="236.00" stroke="#000" stroke-width="1.5" />
<text x="284.71" y="238.35" font-size="6.8" fill="#1f1f1f" stroke="#1f1f1f" stroke-width="0.07" font-weight="normal" textLength="12.28" lengthAdjust="spacingAndGlyphs" >300</text>
<line x1="300.70" y1="214.80" x2="304.70" y2="214.80" stroke="#000" stroke-width="1.5" />
<text x="284.85" y="217.15" font-size="6.8" fill="#1f1f1f" stroke="#1f1f1f" stroke-width="0.07" font-weight="normal" textLength="12.13" lengthAdjust="spacingAndGlyphs" >400</text>
<line x1="304.10" y1="299.60" x2="452.00" y2="299.60" stroke="#000" stroke-width="1.7" />
<line x1="313.10" y1="299.60" x2="313.10" y2="303.00" stroke="#000" stroke-width="1.4" />
<line x1="326.02" y1="299.60" x2="326.02" y2="303.00" stroke="#000" stroke-width="1.4" />
<line x1="338.94" y1="299.60" x2="338.94" y2="303.00" stroke="#000" stroke-width="1.4" />
<line x1="351.86" y1="299.60" x2="351.86" y2="303.00" stroke="#000" stroke-width="1.4" />
<line x1="364.78" y1="299.60" x2="364.78" y2="303.00" stroke="#000" stroke-width="1.4" />
<line x1="377.70" y1="299.60" x2="377.70" y2="303.00" stroke="#000" stroke-width="1.4" />
<line x1="390.62" y1="299.60" x2="390.62" y2="303.00" stroke="#000" stroke-width="1.4" />
<line x1="403.54" y1="299.60" x2="403.54" y2="303.00" stroke="#000" stroke-width="1.4" />
<line x1="416.46" y1="299.60" x2="416.46" y2="303.00" stroke="#000" stroke-width="1.4" />
<line x1="429.38" y1="299.60" x2="429.38" y2="303.00" stroke="#000" stroke-width="1.4" />
<line x1="442.30" y1="299.60" x2="442.30" y2="303.00" stroke="#000" stroke-width="1.4" />
<rect x="309.10" y="280.00" width="8.00" height="19.60" fill="#c6c4c9"/>
<rect x="322.02" y="281.50" width="8.00" height="18.10" fill="#2e4a80"/>
<rect x="334.94" y="280.50" width="8.00" height="19.10" fill="#4c566f"/>
<rect x="347.86" y="280.00" width="8.00" height="19.60" fill="#a9082f"/>
<rect x="360.78" y="278.40" width="8.00" height="21.20" fill="#68a7de"/>
<rect x="386.62" y="279.40" width="8.00" height="20.20" fill="#c6c4c9"/>
<rect x="399.54" y="247.70" width="8.00" height="51.90" fill="#2e4a80"/>
<rect x="412.46" y="276.30" width="8.00" height="23.30" fill="#4c566f"/>
<rect x="425.38" y="280.00" width="8.00" height="19.60" fill="#a9082f"/>
<rect x="438.30" y="280.50" width="8.00" height="19.10" fill="#68a7de"/>
<line x1="304.70" y1="280.15" x2="448.00" y2="280.15" stroke="#111" stroke-width="1.4" stroke-dasharray="4.2 2.8"/>
<line x1="313.10" y1="279.00" x2="313.10" y2="281.00" stroke="#000" stroke-width="1.2" />
<line x1="311.10" y1="279.00" x2="315.10" y2="279.00" stroke="#000" stroke-width="1.2" />
<line x1="311.10" y1="281.00" x2="315.10" y2="281.00" stroke="#000" stroke-width="1.2" />
<line x1="326.02" y1="279.50" x2="326.02" y2="283.50" stroke="#000" stroke-width="1.2" />
<line x1="324.02" y1="279.50" x2="328.02" y2="279.50" stroke="#000" stroke-width="1.2" />
<line x1="324.02" y1="283.50" x2="328.02" y2="283.50" stroke="#000" stroke-width="1.2" />
<line x1="338.94" y1="275.60" x2="338.94" y2="285.80" stroke="#000" stroke-width="1.2" />
<line x1="336.94" y1="275.60" x2="340.94" y2="275.60" stroke="#000" stroke-width="1.2" />
<line x1="336.94" y1="285.80" x2="340.94" y2="285.80" stroke="#000" stroke-width="1.2" />
<line x1="351.86" y1="278.50" x2="351.86" y2="281.50" stroke="#000" stroke-width="1.2" />
<line x1="349.86" y1="278.50" x2="353.86" y2="278.50" stroke="#000" stroke-width="1.2" />
<line x1="349.86" y1="281.50" x2="353.86" y2="281.50" stroke="#000" stroke-width="1.2" />
<line x1="364.78" y1="276.50" x2="364.78" y2="280.50" stroke="#000" stroke-width="1.2" />
<line x1="362.78" y1="276.50" x2="366.78" y2="276.50" stroke="#000" stroke-width="1.2" />
<line x1="362.78" y1="280.50" x2="366.78" y2="280.50" stroke="#000" stroke-width="1.2" />
<line x1="390.62" y1="278.50" x2="390.62" y2="280.50" stroke="#000" stroke-width="1.2" />
<line x1="388.62" y1="278.50" x2="392.62" y2="278.50" stroke="#000" stroke-width="1.2" />
<line x1="388.62" y1="280.50" x2="392.62" y2="280.50" stroke="#000" stroke-width="1.2" />
<line x1="403.54" y1="238.00" x2="403.54" y2="252.00" stroke="#000" stroke-width="1.2" />
<line x1="401.54" y1="238.00" x2="405.54" y2="238.00" stroke="#000" stroke-width="1.2" />
<line x1="401.54" y1="252.00" x2="405.54" y2="252.00" stroke="#000" stroke-width="1.2" />
<line x1="416.46" y1="273.00" x2="416.46" y2="280.00" stroke="#000" stroke-width="1.2" />
<line x1="414.46" y1="273.00" x2="418.46" y2="273.00" stroke="#000" stroke-width="1.2" />
<line x1="414.46" y1="280.00" x2="418.46" y2="280.00" stroke="#000" stroke-width="1.2" />
<line x1="429.38" y1="278.50" x2="429.38" y2="281.50" stroke="#000" stroke-width="1.2" />
<line x1="427.38" y1="278.50" x2="431.38" y2="278.50" stroke="#000" stroke-width="1.2" />
<line x1="427.38" y1="281.50" x2="431.38" y2="281.50" stroke="#000" stroke-width="1.2" />
<line x1="442.30" y1="279.00" x2="442.30" y2="281.50" stroke="#000" stroke-width="1.2" />
<line x1="440.30" y1="279.00" x2="444.30" y2="279.00" stroke="#000" stroke-width="1.2" />
<line x1="440.30" y1="281.50" x2="444.30" y2="281.50" stroke="#000" stroke-width="1.2" />
<ellipse cx="313.1" cy="279.0" rx="4.3" ry="1.3" fill="#000"/>
<ellipse cx="390.9" cy="279.4" rx="4.1" ry="1.2" fill="#000"/>
<circle cx="322.62" cy="278.40" r="1.1" fill="#000"/>
<circle cx="327.02" cy="276.50" r="1.1" fill="#000"/>
<circle cx="328.92" cy="279.90" r="1.1" fill="#000"/>
<circle cx="325.52" cy="281.50" r="1.1" fill="#000"/>
<circle cx="338.94" cy="268.50" r="1.1" fill="#000"/>
<circle cx="335.74" cy="281.00" r="1.1" fill="#000"/>
<circle cx="342.24" cy="286.00" r="1.1" fill="#000"/>
<circle cx="353.06" cy="277.50" r="1.1" fill="#000"/>
<circle cx="354.96" cy="276.60" r="1.1" fill="#000"/>
<circle cx="350.36" cy="279.50" r="1.1" fill="#000"/>
<circle cx="362.08" cy="276.00" r="1.1" fill="#000"/>
<circle cx="367.28" cy="275.50" r="1.1" fill="#000"/>
<circle cx="365.18" cy="279.00" r="1.1" fill="#000"/>
<circle cx="403.54" cy="210.70" r="1.1" fill="#000"/>
<circle cx="403.54" cy="230.40" r="1.1" fill="#000"/>
<circle cx="403.54" cy="237.80" r="1.1" fill="#000"/>
<circle cx="416.46" cy="269.40" r="1.1" fill="#000"/>
<circle cx="416.46" cy="273.00" r="1.1" fill="#000"/>
<circle cx="425.58" cy="277.60" r="1.1" fill="#000"/>
<circle cx="431.78" cy="276.80" r="1.1" fill="#000"/>
<circle cx="439.40" cy="279.00" r="1.1" fill="#000"/>
<circle cx="443.50" cy="276.00" r="1.1" fill="#000"/>
<circle cx="445.80" cy="279.00" r="1.1" fill="#000"/>
<text x="315.40" y="309.00" font-size="7.3" text-anchor="end" fill="#1f1f1f" stroke="#1f1f1f" stroke-width="0.07" transform="rotate(-45 315.40 309.00)">Medium</text>
<text x="328.32" y="309.00" font-size="7.3" text-anchor="end" fill="#1f1f1f" stroke="#1f1f1f" stroke-width="0.07" transform="rotate(-45 328.32 309.00)">QA</text>
<text x="341.24" y="309.00" font-size="7.3" text-anchor="end" fill="#1f1f1f" stroke="#1f1f1f" stroke-width="0.07" transform="rotate(-45 341.24 309.00)">AQ</text>
<text x="354.16" y="309.00" font-size="7.3" text-anchor="end" fill="#1f1f1f" stroke="#1f1f1f" stroke-width="0.07" transform="rotate(-45 354.16 309.00)">CQ</text>
<text x="367.08" y="309.00" font-size="7.3" text-anchor="end" fill="#1f1f1f" stroke="#1f1f1f" stroke-width="0.07" transform="rotate(-45 367.08 309.00)">DHA</text>
<text x="392.92" y="309.00" font-size="7.3" text-anchor="end" fill="#1f1f1f" stroke="#1f1f1f" stroke-width="0.07" transform="rotate(-45 392.92 309.00)">Medium</text>
<text x="405.84" y="309.00" font-size="7.3" text-anchor="end" fill="#1f1f1f" stroke="#1f1f1f" stroke-width="0.07" transform="rotate(-45 405.84 309.00)">QA</text>
<text x="418.76" y="309.00" font-size="7.3" text-anchor="end" fill="#1f1f1f" stroke="#1f1f1f" stroke-width="0.07" transform="rotate(-45 418.76 309.00)">AQ</text>
<text x="431.68" y="309.00" font-size="7.3" text-anchor="end" fill="#1f1f1f" stroke="#1f1f1f" stroke-width="0.07" transform="rotate(-45 431.68 309.00)">CQ</text>
<text x="444.60" y="309.00" font-size="7.3" text-anchor="end" fill="#1f1f1f" stroke="#1f1f1f" stroke-width="0.07" transform="rotate(-45 444.60 309.00)">DHA</text>
<line x1="307.30" y1="332.00" x2="369.20" y2="332.00" stroke="#000" stroke-width="1.25" />
<line x1="387.30" y1="332.00" x2="449.20" y2="332.00" stroke="#000" stroke-width="1.25" />
<text x="323.13" y="341.70" font-size="6.9" fill="#1f1f1f" stroke="#1f1f1f" stroke-width="0.07" font-weight="normal" textLength="30.29" lengthAdjust="spacingAndGlyphs" >No Heme</text>
<text x="397.92" y="342.00" font-size="6.9" fill="#1f1f1f" stroke="#1f1f1f" stroke-width="0.07" font-weight="normal" textLength="40.33" lengthAdjust="spacingAndGlyphs" >Heme (5µM)</text>
<text x="350.29" y="196.00" font-size="9.7" fill="#1f1f1f" stroke="#1f1f1f" stroke-width="0.15" font-weight="normal" textLength="55.66" lengthAdjust="spacingAndGlyphs" >HO-1 MFI of</text>
<text x="331.96" y="207.60" font-size="9.7" fill="#1f1f1f" stroke="#1f1f1f" stroke-width="0.15" font-weight="normal" textLength="92.77" lengthAdjust="spacingAndGlyphs" >in Proliferated B cells</text>
<g transform="translate(267.70 275.90) rotate(-90)">
<text x="-0.62" y="0.00" font-size="10" fill="#1f1f1f" stroke="#1f1f1f" stroke-width="0.07" font-weight="normal" textLength="42.48" lengthAdjust="spacingAndGlyphs" >HO-1 MFI of</text>
</g>
<g transform="translate(279.00 289.30) rotate(-90)">
<text x="-0.51" y="0.00" font-size="10" fill="#1f1f1f" stroke="#1f1f1f" stroke-width="0.07" font-weight="normal" textLength="69.55" lengthAdjust="spacingAndGlyphs" >in proliferated B cell</text>
</g>
<line x1="34.30" y1="401.60" x2="34.30" y2="480.40" stroke="#000" stroke-width="1.7" />
<line x1="30.30" y1="479.80" x2="34.30" y2="479.80" stroke="#000" stroke-width="1.5" />
<text x="16.52" y="482.10" font-size="6.7" fill="#1f1f1f" stroke="#1f1f1f" stroke-width="0.07" font-weight="normal" textLength="9.62" lengthAdjust="spacingAndGlyphs" >0%</text>
<line x1="30.30" y1="467.45" x2="34.30" y2="467.45" stroke="#000" stroke-width="1.5" />
<text x="12.83" y="469.75" font-size="6.7" fill="#1f1f1f" stroke="#1f1f1f" stroke-width="0.07" font-weight="normal" textLength="13.32" lengthAdjust="spacingAndGlyphs" >20%</text>
<line x1="30.30" y1="455.10" x2="34.30" y2="455.10" stroke="#000" stroke-width="1.5" />
<text x="12.83" y="457.40" font-size="6.7" fill="#1f1f1f" stroke="#1f1f1f" stroke-width="0.07" font-weight="normal" textLength="13.32" lengthAdjust="spacingAndGlyphs" >40%</text>
<line x1="30.30" y1="442.75" x2="34.30" y2="442.75" stroke="#000" stroke-width="1.5" />
<text x="12.83" y="445.05" font-size="6.7" fill="#1f1f1f" stroke="#1f1f1f" stroke-width="0.07" font-weight="normal" textLength="13.32" lengthAdjust="spacingAndGlyphs" >60%</text>
<line x1="30.30" y1="430.40" x2="34.30" y2="430.40" stroke="#000" stroke-width="1.5" />
<text x="12.83" y="432.70" font-size="6.7" fill="#1f1f1f" stroke="#1f1f1f" stroke-width="0.07" font-weight="normal" textLength="13.32" lengthAdjust="spacingAndGlyphs" >80%</text>
<line x1="30.30" y1="418.05" x2="34.30" y2="418.05" stroke="#000" stroke-width="1.5" />
<text x="9.10" y="420.35" font-size="6.7" fill="#1f1f1f" stroke="#1f1f1f" stroke-width="0.07" font-weight="normal" textLength="17.02" lengthAdjust="spacingAndGlyphs" >100%</text>
<line x1="30.30" y1="405.70" x2="34.30" y2="405.70" stroke="#000" stroke-width="1.5" />
<text x="9.10" y="408.00" font-size="6.7" fill="#1f1f1f" stroke="#1f1f1f" stroke-width="0.07" font-weight="normal" textLength="17.02" lengthAdjust="spacingAndGlyphs" >120%</text>
<line x1="33.70" y1="479.80" x2="381.00" y2="479.80" stroke="#000" stroke-width="1.7" />
<line x1="34.30" y1="417.00" x2="372.00" y2="417.00" stroke="#5f6b7e" stroke-width="1.4" stroke-dasharray="4.2 2.8"/>
<line x1="48.50" y1="479.80" x2="48.50" y2="483.20" stroke="#000" stroke-width="1.4" />
<line x1="69.30" y1="479.80" x2="69.30" y2="483.20" stroke="#000" stroke-width="1.4" />
<line x1="90.20" y1="479.80" x2="90.20" y2="483.20" stroke="#000" stroke-width="1.4" />
<line x1="111.20" y1="479.80" x2="111.20" y2="483.20" stroke="#000" stroke-width="1.4" />
<line x1="132.10" y1="479.80" x2="132.10" y2="483.20" stroke="#000" stroke-width="1.4" />
<polyline points="48.50,417.80 69.30,419.00 90.20,422.40 111.20,423.20 132.10,421.50" fill="none" stroke="#ab0f36" stroke-width="1.7"/>
<line x1="48.50" y1="416.80" x2="48.50" y2="418.80" stroke="#ab0f36" stroke-width="1.3" />
<line x1="46.90" y1="416.80" x2="50.10" y2="416.80" stroke="#ab0f36" stroke-width="1.3" />
<line x1="46.90" y1="418.80" x2="50.10" y2="418.80" stroke="#ab0f36" stroke-width="1.3" />
<line x1="69.30" y1="418.00" x2="69.30" y2="420.00" stroke="#ab0f36" stroke-width="1.3" />
<line x1="67.70" y1="418.00" x2="70.90" y2="418.00" stroke="#ab0f36" stroke-width="1.3" />
<line x1="67.70" y1="420.00" x2="70.90" y2="420.00" stroke="#ab0f36" stroke-width="1.3" />
<line x1="90.20" y1="420.50" x2="90.20" y2="424.20" stroke="#ab0f36" stroke-width="1.3" />
<line x1="88.60" y1="420.50" x2="91.80" y2="420.50" stroke="#ab0f36" stroke-width="1.3" />
<line x1="88.60" y1="424.20" x2="91.80" y2="424.20" stroke="#ab0f36" stroke-width="1.3" />
<line x1="111.20" y1="421.00" x2="111.20" y2="425.20" stroke="#ab0f36" stroke-width="1.3" />
<line x1="109.60" y1="421.00" x2="112.80" y2="421.00" stroke="#ab0f36" stroke-width="1.3" />
<line x1="109.60" y1="425.20" x2="112.80" y2="425.20" stroke="#ab0f36" stroke-width="1.3" />
<line x1="132.10" y1="419.50" x2="132.10" y2="423.50" stroke="#ab0f36" stroke-width="1.3" />
<line x1="130.50" y1="419.50" x2="133.70" y2="419.50" stroke="#ab0f36" stroke-width="1.3" />
<line x1="130.50" y1="423.50" x2="133.70" y2="423.50" stroke="#ab0f36" stroke-width="1.3" />
<circle cx="48.50" cy="417.80" r="2.0" fill="#ab0f36"/>
<circle cx="69.30" cy="419.00" r="2.0" fill="#ab0f36"/>
<circle cx="90.20" cy="422.40" r="2.0" fill="#ab0f36"/>
<circle cx="111.20" cy="423.20" r="2.0" fill="#ab0f36"/>
<circle cx="132.10" cy="421.50" r="2.0" fill="#ab0f36"/>
<polyline points="48.50,417.80 69.30,423.90 90.20,424.70 111.20,426.20 132.10,430.80" fill="none" stroke="#2a4b86" stroke-width="1.7"/>
<line x1="48.50" y1="417.00" x2="48.50" y2="418.50" stroke="#2a4b86" stroke-width="1.3" />
<line x1="46.90" y1="417.00" x2="50.10" y2="417.00" stroke="#2a4b86" stroke-width="1.3" />
<line x1="46.90" y1="418.50" x2="50.10" y2="418.50" stroke="#2a4b86" stroke-width="1.3" />
<line x1="69.30" y1="422.00" x2="69.30" y2="426.30" stroke="#2a4b86" stroke-width="1.3" />
<line x1="67.70" y1="422.00" x2="70.90" y2="422.00" stroke="#2a4b86" stroke-width="1.3" />
<line x1="67.70" y1="426.30" x2="70.90" y2="426.30" stroke="#2a4b86" stroke-width="1.3" />
<line x1="90.20" y1="421.90" x2="90.20" y2="428.10" stroke="#2a4b86" stroke-width="1.3" />
<line x1="88.60" y1="421.90" x2="91.80" y2="421.90" stroke="#2a4b86" stroke-width="1.3" />
<line x1="88.60" y1="428.10" x2="91.80" y2="428.10" stroke="#2a4b86" stroke-width="1.3" />
<line x1="111.20" y1="422.30" x2="111.20" y2="430.40" stroke="#2a4b86" stroke-width="1.3" />
<line x1="109.60" y1="422.30" x2="112.80" y2="422.30" stroke="#2a4b86" stroke-width="1.3" />
<line x1="109.60" y1="430.40" x2="112.80" y2="430.40" stroke="#2a4b86" stroke-width="1.3" />
<line x1="132.10" y1="423.80" x2="132.10" y2="436.10" stroke="#2a4b86" stroke-width="1.3" />
<line x1="130.50" y1="423.80" x2="133.70" y2="423.80" stroke="#2a4b86" stroke-width="1.3" />
<line x1="130.50" y1="436.10" x2="133.70" y2="436.10" stroke="#2a4b86" stroke-width="1.3" />
<circle cx="48.50" cy="417.80" r="1.8" fill="#2a4b86"/>
<circle cx="69.30" cy="423.90" r="1.8" fill="#2a4b86"/>
<circle cx="90.20" cy="424.70" r="1.8" fill="#2a4b86"/>
<circle cx="111.20" cy="426.20" r="1.8" fill="#2a4b86"/>
<circle cx="132.10" cy="430.80" r="1.8" fill="#2a4b86"/>
<text x="46.68" y="493.80" font-size="6.5" fill="#1f1f1f" stroke="#1f1f1f" stroke-width="0.07" font-weight="normal" textLength="3.62" lengthAdjust="spacingAndGlyphs" >0</text>
<text x="64.78" y="493.80" font-size="6.5" fill="#1f1f1f" stroke="#1f1f1f" stroke-width="0.07" font-weight="normal" textLength="9.04" lengthAdjust="spacingAndGlyphs" >0.6</text>
<text x="83.77" y="493.80" font-size="6.5" fill="#1f1f1f" stroke="#1f1f1f" stroke-width="0.07" font-weight="normal" textLength="12.65" lengthAdjust="spacingAndGlyphs" >1.25</text>
<text x="106.65" y="493.80" font-size="6.5" fill="#1f1f1f" stroke="#1f1f1f" stroke-width="0.07" font-weight="normal" textLength="9.04" lengthAdjust="spacingAndGlyphs" >2.5</text>
<text x="130.30" y="493.80" font-size="6.5" fill="#1f1f1f" stroke="#1f1f1f" stroke-width="0.07" font-weight="normal" textLength="3.62" lengthAdjust="spacingAndGlyphs" >5</text>
<line x1="160.80" y1="479.80" x2="160.80" y2="483.20" stroke="#000" stroke-width="1.4" />
<line x1="182.10" y1="479.80" x2="182.10" y2="483.20" stroke="#000" stroke-width="1.4" />
<line x1="203.50" y1="479.80" x2="203.50" y2="483.20" stroke="#000" stroke-width="1.4" />
<line x1="224.90" y1="479.80" x2="224.90" y2="483.20" stroke="#000" stroke-width="1.4" />
<line x1="246.20" y1="479.80" x2="246.20" y2="483.20" stroke="#000" stroke-width="1.4" />
<polyline points="160.80,423.40 182.10,420.60 203.50,430.30 224.90,427.40 246.20,449.20" fill="none" stroke="#ab0f36" stroke-width="1.7"/>
<line x1="160.80" y1="418.00" x2="160.80" y2="429.20" stroke="#ab0f36" stroke-width="1.3" />
<line x1="159.20" y1="418.00" x2="162.40" y2="418.00" stroke="#ab0f36" stroke-width="1.3" />
<line x1="159.20" y1="429.20" x2="162.40" y2="429.20" stroke="#ab0f36" stroke-width="1.3" />
<line x1="182.10" y1="411.60" x2="182.10" y2="430.00" stroke="#ab0f36" stroke-width="1.3" />
<line x1="180.50" y1="411.60" x2="183.70" y2="411.60" stroke="#ab0f36" stroke-width="1.3" />
<line x1="180.50" y1="430.00" x2="183.70" y2="430.00" stroke="#ab0f36" stroke-width="1.3" />
<line x1="203.50" y1="420.40" x2="203.50" y2="440.60" stroke="#ab0f36" stroke-width="1.3" />
<line x1="201.90" y1="420.40" x2="205.10" y2="420.40" stroke="#ab0f36" stroke-width="1.3" />
<line x1="201.90" y1="440.60" x2="205.10" y2="440.60" stroke="#ab0f36" stroke-width="1.3" />
<line x1="224.90" y1="421.90" x2="224.90" y2="432.60" stroke="#ab0f36" stroke-width="1.3" />
<line x1="223.30" y1="421.90" x2="226.50" y2="421.90" stroke="#ab0f36" stroke-width="1.3" />
<line x1="223.30" y1="432.60" x2="226.50" y2="432.60" stroke="#ab0f36" stroke-width="1.3" />
<line x1="246.20" y1="443.50" x2="246.20" y2="454.40" stroke="#ab0f36" stroke-width="1.3" />
<line x1="244.60" y1="443.50" x2="247.80" y2="443.50" stroke="#ab0f36" stroke-width="1.3" />
<line x1="244.60" y1="454.40" x2="247.80" y2="454.40" stroke="#ab0f36" stroke-width="1.3" />
<circle cx="160.80" cy="423.40" r="2.0" fill="#ab0f36"/>
<circle cx="182.10" cy="420.60" r="2.0" fill="#ab0f36"/>
<circle cx="203.50" cy="430.30" r="2.0" fill="#ab0f36"/>
<circle cx="224.90" cy="427.40" r="2.0" fill="#ab0f36"/>
<circle cx="246.20" cy="449.20" r="2.0" fill="#ab0f36"/>
<polyline points="160.80,446.20 182.10,452.20 203.50,455.50 224.90,457.80 246.20,470.20" fill="none" stroke="#2a4b86" stroke-width="1.7"/>
<line x1="160.80" y1="440.00" x2="160.80" y2="452.20" stroke="#2a4b86" stroke-width="1.3" />
<line x1="159.20" y1="440.00" x2="162.40" y2="440.00" stroke="#2a4b86" stroke-width="1.3" />
<line x1="159.20" y1="452.20" x2="162.40" y2="452.20" stroke="#2a4b86" stroke-width="1.3" />
<line x1="182.10" y1="443.90" x2="182.10" y2="460.30" stroke="#2a4b86" stroke-width="1.3" />
<line x1="180.50" y1="443.90" x2="183.70" y2="443.90" stroke="#2a4b86" stroke-width="1.3" />
<line x1="180.50" y1="460.30" x2="183.70" y2="460.30" stroke="#2a4b86" stroke-width="1.3" />
<line x1="203.50" y1="447.60" x2="203.50" y2="463.00" stroke="#2a4b86" stroke-width="1.3" />
<line x1="201.90" y1="447.60" x2="205.10" y2="447.60" stroke="#2a4b86" stroke-width="1.3" />
<line x1="201.90" y1="463.00" x2="205.10" y2="463.00" stroke="#2a4b86" stroke-width="1.3" />
<line x1="224.90" y1="449.70" x2="224.90" y2="466.10" stroke="#2a4b86" stroke-width="1.3" />
<line x1="223.30" y1="449.70" x2="226.50" y2="449.70" stroke="#2a4b86" stroke-width="1.3" />
<line x1="223.30" y1="466.10" x2="226.50" y2="466.10" stroke="#2a4b86" stroke-width="1.3" />
<line x1="246.20" y1="465.20" x2="246.20" y2="474.60" stroke="#2a4b86" stroke-width="1.3" />
<line x1="244.60" y1="465.20" x2="247.80" y2="465.20" stroke="#2a4b86" stroke-width="1.3" />
<line x1="244.60" y1="474.60" x2="247.80" y2="474.60" stroke="#2a4b86" stroke-width="1.3" />
<circle cx="160.80" cy="446.20" r="1.8" fill="#2a4b86"/>
<circle cx="182.10" cy="452.20" r="1.8" fill="#2a4b86"/>
<circle cx="203.50" cy="455.50" r="1.8" fill="#2a4b86"/>
<circle cx="224.90" cy="457.80" r="1.8" fill="#2a4b86"/>
<circle cx="246.20" cy="470.20" r="1.8" fill="#2a4b86"/>
<text x="158.98" y="493.80" font-size="6.5" fill="#1f1f1f" stroke="#1f1f1f" stroke-width="0.07" font-weight="normal" textLength="3.62" lengthAdjust="spacingAndGlyphs" >0</text>
<text x="177.58" y="493.80" font-size="6.5" fill="#1f1f1f" stroke="#1f1f1f" stroke-width="0.07" font-weight="normal" textLength="9.04" lengthAdjust="spacingAndGlyphs" >0.6</text>
<text x="197.06" y="493.80" font-size="6.5" fill="#1f1f1f" stroke="#1f1f1f" stroke-width="0.07" font-weight="normal" textLength="12.65" lengthAdjust="spacingAndGlyphs" >1.25</text>
<text x="220.35" y="493.80" font-size="6.5" fill="#1f1f1f" stroke="#1f1f1f" stroke-width="0.07" font-weight="normal" textLength="9.04" lengthAdjust="spacingAndGlyphs" >2.5</text>
<text x="244.40" y="493.80" font-size="6.5" fill="#1f1f1f" stroke="#1f1f1f" stroke-width="0.07" font-weight="normal" textLength="3.62" lengthAdjust="spacingAndGlyphs" >5</text>
<line x1="276.60" y1="479.80" x2="276.60" y2="483.20" stroke="#000" stroke-width="1.4" />
<line x1="298.50" y1="479.80" x2="298.50" y2="483.20" stroke="#000" stroke-width="1.4" />
<line x1="321.10" y1="479.80" x2="321.10" y2="483.20" stroke="#000" stroke-width="1.4" />
<line x1="343.40" y1="479.80" x2="343.40" y2="483.20" stroke="#000" stroke-width="1.4" />
<line x1="365.40" y1="479.80" x2="365.40" y2="483.20" stroke="#000" stroke-width="1.4" />
<polyline points="276.60,418.20 298.50,414.20 321.10,427.10 343.40,450.20 365.40,476.20" fill="none" stroke="#ab0f36" stroke-width="1.7"/>
<line x1="276.60" y1="409.60" x2="276.60" y2="427.90" stroke="#ab0f36" stroke-width="1.3" />
<line x1="275.00" y1="409.60" x2="278.20" y2="409.60" stroke="#ab0f36" stroke-width="1.3" />
<line x1="275.00" y1="427.90" x2="278.20" y2="427.90" stroke="#ab0f36" stroke-width="1.3" />
<line x1="298.50" y1="402.30" x2="298.50" y2="426.30" stroke="#ab0f36" stroke-width="1.3" />
<line x1="296.90" y1="402.30" x2="300.10" y2="402.30" stroke="#ab0f36" stroke-width="1.3" />
<line x1="296.90" y1="426.30" x2="300.10" y2="426.30" stroke="#ab0f36" stroke-width="1.3" />
<line x1="321.10" y1="421.70" x2="321.10" y2="432.50" stroke="#ab0f36" stroke-width="1.3" />
<line x1="319.50" y1="421.70" x2="322.70" y2="421.70" stroke="#ab0f36" stroke-width="1.3" />
<line x1="319.50" y1="432.50" x2="322.70" y2="432.50" stroke="#ab0f36" stroke-width="1.3" />
<line x1="343.40" y1="441.30" x2="343.40" y2="458.90" stroke="#ab0f36" stroke-width="1.3" />
<line x1="341.80" y1="441.30" x2="345.00" y2="441.30" stroke="#ab0f36" stroke-width="1.3" />
<line x1="341.80" y1="458.90" x2="345.00" y2="458.90" stroke="#ab0f36" stroke-width="1.3" />
<line x1="365.40" y1="472.00" x2="365.40" y2="481.00" stroke="#ab0f36" stroke-width="1.3" />
<line x1="363.80" y1="472.00" x2="367.00" y2="472.00" stroke="#ab0f36" stroke-width="1.3" />
<line x1="363.80" y1="481.00" x2="367.00" y2="481.00" stroke="#ab0f36" stroke-width="1.3" />
<circle cx="276.60" cy="418.20" r="2.0" fill="#ab0f36"/>
<circle cx="298.50" cy="414.20" r="2.0" fill="#ab0f36"/>
<circle cx="321.10" cy="427.10" r="2.0" fill="#ab0f36"/>
<circle cx="343.40" cy="450.20" r="2.0" fill="#ab0f36"/>
<circle cx="365.40" cy="476.20" r="2.0" fill="#ab0f36"/>
<polyline points="276.60,455.50 298.50,457.30 321.10,460.80 343.40,472.20 365.40,471.00" fill="none" stroke="#2a4b86" stroke-width="1.7"/>
<line x1="276.60" y1="448.70" x2="276.60" y2="462.10" stroke="#2a4b86" stroke-width="1.3" />
<line x1="275.00" y1="448.70" x2="278.20" y2="448.70" stroke="#2a4b86" stroke-width="1.3" />
<line x1="275.00" y1="462.10" x2="278.20" y2="462.10" stroke="#2a4b86" stroke-width="1.3" />
<line x1="298.50" y1="449.20" x2="298.50" y2="464.80" stroke="#2a4b86" stroke-width="1.3" />
<line x1="296.90" y1="449.20" x2="300.10" y2="449.20" stroke="#2a4b86" stroke-width="1.3" />
<line x1="296.90" y1="464.80" x2="300.10" y2="464.80" stroke="#2a4b86" stroke-width="1.3" />
<line x1="321.10" y1="454.00" x2="321.10" y2="468.30" stroke="#2a4b86" stroke-width="1.3" />
<line x1="319.50" y1="454.00" x2="322.70" y2="454.00" stroke="#2a4b86" stroke-width="1.3" />
<line x1="319.50" y1="468.30" x2="322.70" y2="468.30" stroke="#2a4b86" stroke-width="1.3" />
<line x1="343.40" y1="468.70" x2="343.40" y2="475.70" stroke="#2a4b86" stroke-width="1.3" />
<line x1="341.80" y1="468.70" x2="345.00" y2="468.70" stroke="#2a4b86" stroke-width="1.3" />
<line x1="341.80" y1="475.70" x2="345.00" y2="475.70" stroke="#2a4b86" stroke-width="1.3" />
<line x1="365.40" y1="464.70" x2="365.40" y2="473.90" stroke="#2a4b86" stroke-width="1.3" />
<line x1="363.80" y1="464.70" x2="367.00" y2="464.70" stroke="#2a4b86" stroke-width="1.3" />
<line x1="363.80" y1="473.90" x2="367.00" y2="473.90" stroke="#2a4b86" stroke-width="1.3" />
<circle cx="276.60" cy="455.50" r="1.8" fill="#2a4b86"/>
<circle cx="298.50" cy="457.30" r="1.8" fill="#2a4b86"/>
<circle cx="321.10" cy="460.80" r="1.8" fill="#2a4b86"/>
<circle cx="343.40" cy="472.20" r="1.8" fill="#2a4b86"/>
<circle cx="365.40" cy="471.00" r="1.8" fill="#2a4b86"/>
<text x="274.78" y="493.80" font-size="6.5" fill="#1f1f1f" stroke="#1f1f1f" stroke-width="0.07" font-weight="normal" textLength="3.62" lengthAdjust="spacingAndGlyphs" >0</text>
<text x="293.98" y="493.80" font-size="6.5" fill="#1f1f1f" stroke="#1f1f1f" stroke-width="0.07" font-weight="normal" textLength="9.04" lengthAdjust="spacingAndGlyphs" >0.6</text>
<text x="314.67" y="493.80" font-size="6.5" fill="#1f1f1f" stroke="#1f1f1f" stroke-width="0.07" font-weight="normal" textLength="12.65" lengthAdjust="spacingAndGlyphs" >1.25</text>
<text x="338.85" y="493.80" font-size="6.5" fill="#1f1f1f" stroke="#1f1f1f" stroke-width="0.07" font-weight="normal" textLength="9.04" lengthAdjust="spacingAndGlyphs" >2.5</text>
<text x="363.60" y="493.80" font-size="6.5" fill="#1f1f1f" stroke="#1f1f1f" stroke-width="0.07" font-weight="normal" textLength="3.62" lengthAdjust="spacingAndGlyphs" >5</text>
<circle cx="90.20" cy="435.60" r="1.0" fill="#2a4b86"/>
<circle cx="111.20" cy="436.50" r="1.0" fill="#2a4b86"/>
<circle cx="132.10" cy="442.30" r="1.0" fill="#2a4b86"/>
<circle cx="89.60" cy="415.60" r="1.0" fill="#ab0f36"/>
<circle cx="110.80" cy="418.10" r="1.0" fill="#ab0f36"/>
<circle cx="203.50" cy="443.90" r="1.0" fill="#2a4b86"/>
<circle cx="224.90" cy="445.00" r="1.0" fill="#2a4b86"/>
<circle cx="244.60" cy="462.40" r="1.0" fill="#2a4b86"/>
<circle cx="247.80" cy="462.40" r="1.0" fill="#2a4b86"/>
<circle cx="203.50" cy="415.00" r="1.0" fill="#ab0f36"/>
<circle cx="244.60" cy="434.70" r="1.0" fill="#ab0f36"/>
<circle cx="247.80" cy="434.70" r="1.0" fill="#ab0f36"/>
<circle cx="341.80" cy="466.00" r="1.0" fill="#2a4b86"/>
<circle cx="345.00" cy="466.00" r="1.0" fill="#2a4b86"/>
<circle cx="341.80" cy="438.70" r="1.0" fill="#ab0f36"/>
<circle cx="345.00" cy="438.70" r="1.0" fill="#ab0f36"/>
<circle cx="367.10" cy="456.00" r="1.0" fill="#ab0f36"/>
<circle cx="370.30" cy="456.00" r="1.0" fill="#ab0f36"/>
<line x1="45.70" y1="499.30" x2="136.60" y2="499.30" stroke="#000" stroke-width="1.25" />
<line x1="156.80" y1="499.30" x2="249.60" y2="499.30" stroke="#000" stroke-width="1.25" />
<line x1="272.50" y1="499.30" x2="369.40" y2="499.30" stroke="#000" stroke-width="1.25" />
<text x="70.68" y="509.30" font-size="6.6" fill="#1f1f1f" stroke="#1f1f1f" stroke-width="0.07" font-weight="normal" textLength="41.79" lengthAdjust="spacingAndGlyphs" >Quinine (µM)</text>
<text x="182.37" y="509.30" font-size="6.6" fill="#1f1f1f" stroke="#1f1f1f" stroke-width="0.07" font-weight="normal" textLength="42.30" lengthAdjust="spacingAndGlyphs" >Quinine (µM)</text>
<text x="300.48" y="509.30" font-size="6.6" fill="#1f1f1f" stroke="#1f1f1f" stroke-width="0.07" font-weight="normal" textLength="41.69" lengthAdjust="spacingAndGlyphs" >Quinine (µM)</text>
<text x="71.97" y="394.80" font-size="9.4" fill="#1f1f1f" stroke="#1f1f1f" stroke-width="0.15" font-weight="normal" textLength="36.97" lengthAdjust="spacingAndGlyphs" >Medium</text>
<text x="184.00" y="394.80" font-size="9.4" fill="#1f1f1f" stroke="#1f1f1f" stroke-width="0.15" font-weight="normal" textLength="43.51" lengthAdjust="spacingAndGlyphs" >Heme 2.5</text>
<text x="303.39" y="394.80" font-size="9.4" fill="#1f1f1f" stroke="#1f1f1f" stroke-width="0.15" font-weight="normal" textLength="35.33" lengthAdjust="spacingAndGlyphs" >Heme 5</text>
<line x1="343.30" y1="401.20" x2="352.30" y2="401.20" stroke="#2a4b86" stroke-width="1.5" />
<circle cx="347.90" cy="401.20" r="1.3" fill="#2a4b86"/>
<text x="355.47" y="403.50" font-size="6.9" fill="#1f1f1f" stroke="#1f1f1f" stroke-width="0.07" font-weight="normal" textLength="24.87" lengthAdjust="spacingAndGlyphs" >No Allo</text>
<line x1="343.30" y1="412.70" x2="352.30" y2="412.70" stroke="#ab0f36" stroke-width="1.5" />
<rect x="346.4" y="411.2" width="3" height="3" fill="#ab0f36"/>
<text x="356.10" y="414.80" font-size="6.9" fill="#1f1f1f" stroke="#1f1f1f" stroke-width="0.07" font-weight="normal" textLength="23.17" lengthAdjust="spacingAndGlyphs" >Allo (+)</text>
<rect x="0.5" y="0.5" width="518.5" height="517.5" fill="none" stroke="#000" stroke-width="1.2"/>
<rect x="518.5" y="0" width="1.5" height="519" fill="#000"/>
<rect x="0" y="517.5" width="520" height="1.5" fill="#000"/>
</svg></body></html>
